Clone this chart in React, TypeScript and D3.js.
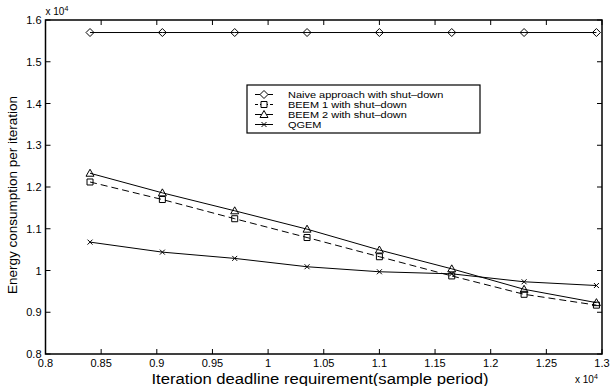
import React from 'react';
import * as d3 from 'd3';

const deadlines = [8400, 9050, 9700, 10350, 11000, 11650, 12300, 12950];
const naive = [15700, 15700, 15700, 15700, 15700, 15700, 15700, 15700];
const beem1 = [12120, 11700, 11240, 10790, 10330, 9870, 9430, 9170];
const beem2 = [12330, 11860, 11430, 10990, 10490, 10040, 9550, 9230];
const qgem = [10680, 10440, 10290, 10090, 9970, 9920, 9730, 9640];

const xTicks = [8000, 8500, 9000, 9500, 10000, 10500, 11000, 11500, 12000, 12500, 13000];
const yTicks = [8000, 9000, 10000, 11000, 12000, 13000, 14000, 15000, 16000];

const seriesNames = [
  'Naive approach with shut\u2013down',
  'BEEM 1 with shut\u2013down',
  'BEEM 2 with shut\u2013down',
  'QGEM',
];

const W = 612;
const H = 386;
const margin = { top: 20, right: 10, bottom: 32, left: 45.5 };
const FONT = 'Liberation Sans, Arial, Helvetica, sans-serif';

type Marker = 'diamond' | 'square' | 'triangle' | 'x';

const markerPath = (m: Marker, cx: number, cy: number) => {
  switch (m) {
    case 'diamond':
      return `M${cx - 4},${cy}L${cx},${cy - 4}L${cx + 4},${cy}L${cx},${cy + 4}Z`;
    case 'square':
      return `M${cx - 3},${cy - 3}h6v6h-6Z`;
    case 'triangle':
      return `M${cx - 4},${cy + 3}L${cx},${cy - 4}L${cx + 4},${cy + 3}Z`;
    default:
      return `M${cx - 2.5},${cy - 2.5}L${cx + 2.5},${cy + 2.5}M${cx - 2.5},${cy + 2.5}L${cx + 2.5},${cy - 2.5}`;
  }
};

const App: React.FC = () => {
  const x = d3.scaleLinear().domain([8000, 13000]).range([margin.left, W - margin.right]);
  const y = d3.scaleLinear().domain([8000, 16000]).range([H - margin.bottom, margin.top]);
  const fmt = (v: number) => d3.format('~g')(+(v / 10000).toFixed(2));

  const series: { values: number[]; marker: Marker; dash?: string }[] = [
    { values: naive, marker: 'diamond' },
    { values: beem1, marker: 'square', dash: '7,4' },
    { values: beem2, marker: 'triangle' },
    { values: qgem, marker: 'x' },
  ];

  const line = d3
    .line<number>()
    .x((_, i) => x(deadlines[i]))
    .y((d) => y(d));

  const [x0, x1] = x.range();
  const [y0, y1] = y.range();
  const tickLen = 5;

  const legend = { left: 247, top: 85, width: 233, height: 48, rowH: 10 };

  return (
    <svg width={W} height={H} style={{ position: 'absolute', left: 0, top: 0, background: '#fff' }} fontFamily={FONT}>
      <rect x={0} y={0} width={W} height={H} fill="#fff" />

      {/* ticks, inward on all four sides */}
      {xTicks.map((t) => (
        <g key={`xt${t}`} stroke="#000" strokeWidth={1}>
          <line x1={x(t)} x2={x(t)} y1={y0} y2={y0 - tickLen} />
          <line x1={x(t)} x2={x(t)} y1={y1} y2={y1 + tickLen} />
        </g>
      ))}
      {yTicks.map((t) => (
        <g key={`yt${t}`} stroke="#000" strokeWidth={1}>
          <line x1={x0} x2={x0 + tickLen} y1={y(t)} y2={y(t)} />
          <line x1={x1} x2={x1 - tickLen} y1={y(t)} y2={y(t)} />
        </g>
      ))}

      {xTicks.map((t) => (
        <text key={`xl${t}`} x={x(t)} y={y0 + 12.5} fontSize={11} textAnchor="middle">
          {fmt(t)}
        </text>
      ))}
      {yTicks.map((t) => (
        <text key={`yl${t}`} x={x0 - 4} y={y(t) + 4} fontSize={11} textAnchor="end">
          {fmt(t)}
        </text>
      ))}

      {/* exponent labels */}
      <text x={x0} y={15} fontSize={10}>
        x 10<tspan dy={-4} fontSize={7}>4</tspan>
      </text>
      <text x={575} y={383} fontSize={10}>
        x 10<tspan dy={-4} fontSize={7}>4</tspan>
      </text>

      <text transform="translate(320,383.5) scale(1.15,1)" fontSize={14.5} textAnchor="middle">
        Iteration deadline requirement(sample period)
      </text>
      <text transform={`translate(17,195) rotate(-90)`} fontSize={13.5} textAnchor="middle">
        Energy consumption per iteration
      </text>

      {/* series */}
      {series.map((s, si) => (
        <g key={`s${si}`}>
          <path d={line(s.values) || ''} fill="none" stroke="#000" strokeWidth={1} strokeDasharray={s.dash} />
          {s.values.map((v, i) => (
            <path key={i} d={markerPath(s.marker, x(deadlines[i]), y(v))} fill="none" stroke="#000" strokeWidth={1} />
          ))}
        </g>
      ))}

      {/* legend */}
      <rect x={legend.left} y={legend.top} width={legend.width} height={legend.height} fill="#fff" stroke="#000" strokeWidth={1.2} />
      {series.map((s, si) => {
        const cy = legend.top + 9.5 + si * legend.rowH;
        return (
          <g key={`lg${si}`}>
            <line x1={255} x2={273} y1={cy} y2={cy} stroke="#000" strokeWidth={1} strokeDasharray={s.dash ? '3,2' : undefined} />
            <path d={markerPath(s.marker, 264, cy)} fill="#fff" stroke="#000" strokeWidth={1} />
            <text transform={`translate(288,${cy + 3}) scale(1.22,1)`} fontSize={9}>
              {seriesNames[si]}
            </text>
          </g>
        );
      })}

      {/* axes box */}
      <rect x={x0} y={y1} width={x1 - x0} height={y0 - y1} fill="none" stroke="#000" strokeWidth={1.5} />
    </svg>
  );
};

export default App;
